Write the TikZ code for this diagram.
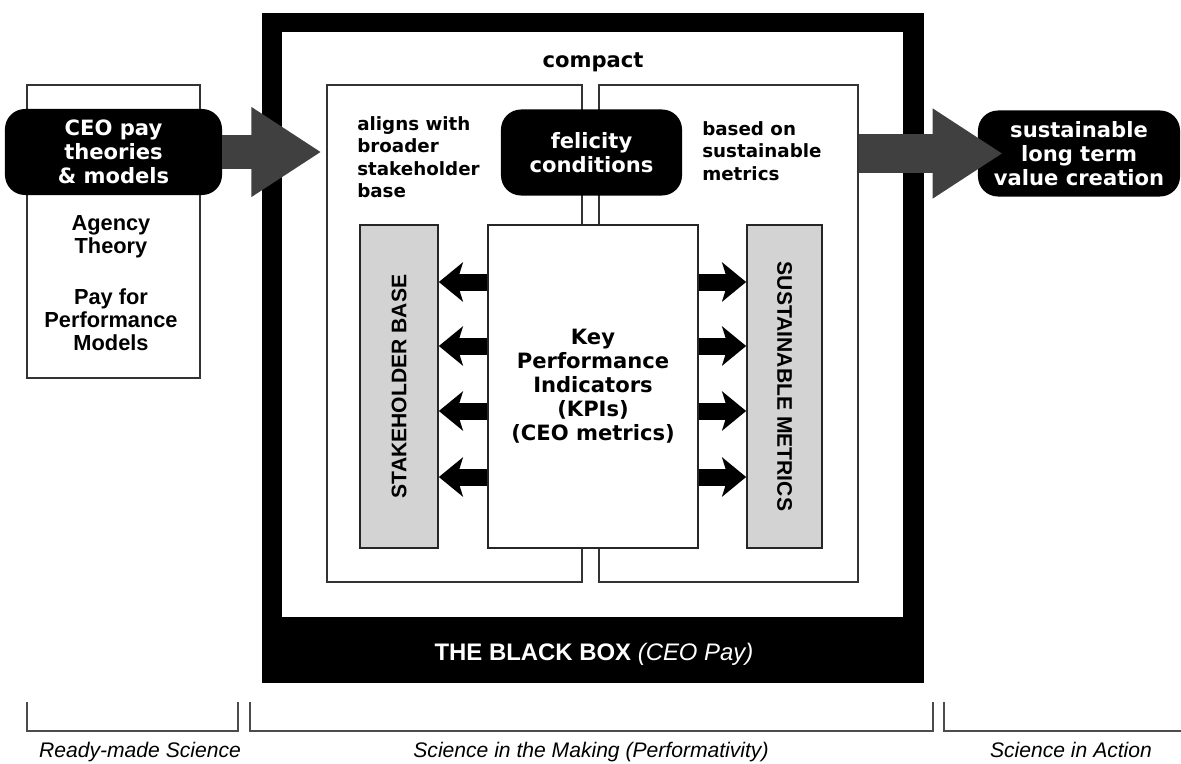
\documentclass[tikz,border=0pt]{standalone}
\usepackage{fontspec}
\setmainfont{Liberation Sans}
\newfontfamily\dejavu{DejaVu Sans}
\usetikzlibrary{arrows.meta}
\definecolor{arrowgrey}{HTML}{404040}
\definecolor{columngrey}{HTML}{D3D3D3}

\begin{document}
\begin{tikzpicture}[
    x=0.025cm, y=-0.025cm,
    pill/.style={fill=black, text=white, rounded corners=0.5cm, align=center, inner sep=0pt, minimum height=2.15cm, font=\dejavu\bfseries\fontsize{15}{17}\selectfont},
    panel/.style={draw=black!80, line width=0.9pt, fill=white, inner sep=0pt, minimum height=12.425cm},
    kpibox/.style={draw=black!85, line width=1.2pt, fill=white, inner sep=0pt, minimum width=5.25cm, minimum height=8.075cm, align=center, font=\dejavu\bfseries\fontsize{15}{17}\selectfont},
    column/.style={draw=black!85, line width=1.2pt, fill=columngrey, inner sep=0pt, minimum height=8.075cm},
    coltext/.style={inner sep=0pt, font=\bfseries\fontsize{15}{15}\selectfont},
    note/.style={align=left, inner sep=0pt, font=\dejavu\bfseries\fontsize{13}{16}\selectfont},
    theory/.style={align=center, inner sep=0pt, font=\bfseries\fontsize{15.5}{16.5}\selectfont},
    stage/.style={inner sep=0pt, font=\itshape\fontsize{15}{16}\selectfont},
    bracket/.style={draw=black!70, line width=0.9pt},
    bigarrow/.style={draw=arrowgrey, line width=0.825cm, -{Triangle[length=1.75cm, width=2.125cm]}},
    kpiarrow/.style={line width=0.425cm, -{Stealth[length=0.6cm, width=0.975cm, inset=0.15cm]}}
]
    \useasboundingbox (0,0) rectangle (1181,763);

    % The black box
    \fill (262,13) rectangle (924,683);
    \fill[white] (282,32) rectangle (903,617);
    \node[anchor=base, inner sep=0pt, font=\dejavu\bfseries\fontsize{15}{15}\selectfont] (compact) at (593,67) {compact};
    \node[anchor=base, inner sep=0pt, text=white, font=\bfseries\fontsize{17}{17}\selectfont] (blackbox) at (594,660) {THE BLACK BOX \textmd{\itshape (CEO Pay)}};

    % Nodes
    \node[draw=black!80, line width=0.9pt, inner sep=0pt, minimum width=4.325cm, minimum height=7.325cm] (readybox) at (113.5,231.5) {};
    \node[theory] (agency) at (111,236.5) {Agency\\Theory};
    \node[theory] (payperf) at (111,320) {Pay for\\Performance\\Models};

    \node[panel, minimum width=6.375cm] (lpanel) at (454.5,333.5) {};
    \node[panel, minimum width=6.475cm] (rpanel) at (728.5,333.5) {};
    \node[note, anchor=north west] (aligns) at (357,116) {aligns with\\broader\\stakeholder\\base};
    \node[note, anchor=north west] (basedon) at (702,121) {based on\\sustainable\\metrics};

    \node[kpibox] (kpi) at (593,386.5) {Key\\Performance\\Indicators\\(KPIs)\\(CEO metrics)};
    \node[column, minimum width=1.95cm] (stake) at (399,386.5) {};
    \node[column, minimum width=1.875cm] (metrics) at (784.5,386.5) {};
    \node[coltext, rotate=90] (staketext) at (stake.center) {STAKEHOLDER BASE};
    \node[coltext, rotate=-90] (metricstext) at (metrics.center) {SUSTAINABLE METRICS};

    \node[pill, minimum width=5.425cm] (ceo) at (113.5,152) {CEO pay\\theories\\\& models};
    \node[pill, minimum width=4.525cm] (felicity) at (591.5,152.5) {felicity\\conditions};
    \node[pill, minimum width=5.05cm] (value) at (1079,153.5) {sustainable\\long term\\value creation};

    % Paths
    \draw[bigarrow, shorten >=0.125cm] (ceo.east) -- (lpanel.west |- ceo.east);
    \draw[bigarrow, line width=0.975cm, shorten >=-0.625cm] (rpanel.east |- value.west) -- (value.west);
    \foreach \y in {282,346,411,477} {
        \coordinate (lvl) at (0,\y);
        \draw[kpiarrow] (kpi.west |- lvl) -- (stake.east |- lvl);
        \draw[kpiarrow] (kpi.east |- lvl) -- (metrics.west |- lvl);
    }

    % Stages
    \draw[bracket] (27,702) -- (27,731) -- (238,731) -- (238,702);
    \draw[bracket] (250,702) -- (250,731) -- (933,731) -- (933,702);
    \draw[bracket] (944,702) -- (944,731) -- (1181,731);
    \node[stage, anchor=base] (ready) at (140,757) {Ready-made Science};
    \node[stage, anchor=base] (making) at (591,757) {Science in the Making (Performativity)};
    \node[stage, anchor=base] (action) at (1071,757) {Science in Action};
\end{tikzpicture}
\end{document}
